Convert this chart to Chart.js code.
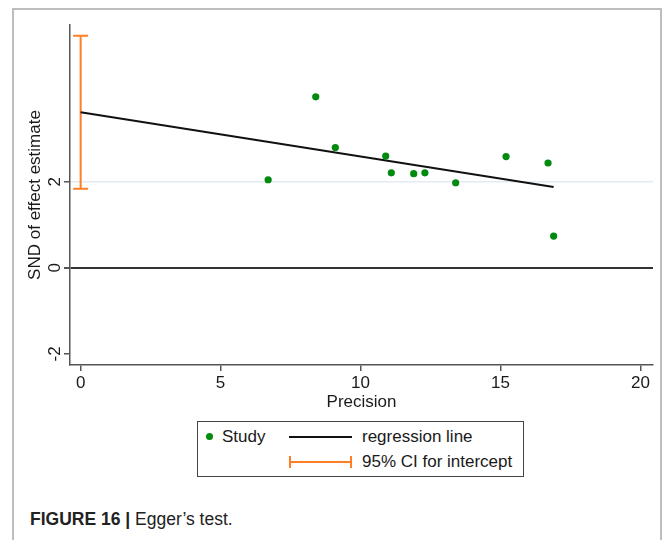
<!DOCTYPE html>
<html>
<head>
<meta charset="utf-8">
<script src="https://cdn.jsdelivr.net/npm/chart.js@4.4.1/dist/chart.umd.min.js"></script>
<style>
  html, body { margin: 0; padding: 0; background: #fff; }
  body { width: 663px; height: 540px; position: relative; overflow: hidden;
         font-family: "Liberation Sans", Arial, Helvetica, sans-serif; color: #1a1a1a; }
  #frame { position: absolute; left: 12px; top: 8px; width: 650px; height: 600px;
           border: 2px solid #bdbdbd; box-sizing: border-box; }
  #plot { position: absolute; left: 0; top: 0; }
  #legend { position: absolute; left: 197px; top: 421px; width: 327px; height: 56px;
            border: 1.5px solid #444; box-sizing: border-box; background: #fff; font-size: 17px; }
  .lg-item { position: absolute; height: 20px; line-height: 20px; white-space: nowrap; }
  .lg-dot { position: absolute; width: 7px; height: 7px; border-radius: 50%; }
  .lg-line { position: absolute; height: 0; }
  .lg-cap { position: absolute; width: 0; height: 12px; }
  #caption { position: absolute; left: 30px; top: 509px; font-size: 17.5px; color: #222; white-space: nowrap; }
  #caption b { font-weight: bold; }
</style>
</head>
<body>
<div id="frame"></div>
<canvas id="plot" width="663" height="420"></canvas>
<div id="legend"></div>
<div id="caption"><b>FIGURE 16 |</b> Egger’s test.</div>
<script>
// Egger's regression test: standard normal deviate vs precision
const precision = [6.7, 8.4, 9.1, 10.9, 11.1, 11.9, 12.3, 13.4, 15.2, 16.7, 16.9];
const snd       = [2.05, 3.98, 2.80, 2.60, 2.21, 2.19, 2.21, 1.98, 2.59, 2.44, 0.74];

// fitted regression line (intercept at precision 0)
const regX = [0, 16.9];
const regY = [3.62, 1.88];

// 95% confidence interval for the intercept
const ciX = [0, 0];
const ciY = [5.40, 1.84];

const xTicks = [0, 5, 10, 15, 20];
const yTicks = [-2, 0, 2];

const green = '#008a0e';
const orange = '#ff7f27';
const font = { size: 17, family: 'Liberation Sans' };

const pts = (xs, ys) => xs.map((x, i) => ({ x: x, y: ys[i] }));

const chart = new Chart(document.getElementById('plot'), {
  type: 'scatter',
  data: {
    datasets: [
      {
        label: 'Study',
        data: pts(precision, snd),
        pointRadius: 3.6,
        pointHoverRadius: 3.6,
        backgroundColor: green,
        borderWidth: 0,
        showLine: false
      },
      {
        label: 'regression line',
        data: pts(regX, regY),
        showLine: true,
        borderColor: '#111',
        borderWidth: 2,
        pointRadius: 0,
        fill: false
      },
      {
        label: '95% CI for intercept',
        data: pts(ciX, ciY),
        showLine: true,
        borderColor: orange,
        borderWidth: 2,
        pointStyle: 'line',
        pointRadius: 7.5,
        pointBorderColor: orange,
        pointBorderWidth: 2,
        fill: false
      }
    ]
  },
  options: {
    responsive: false,
    animation: false,
    events: [],
    layout: { padding: { top: 25, right: 10, left: 0, bottom: 0 } },
    plugins: { legend: { display: false }, tooltip: { enabled: false } },
    scales: {
      x: {
        type: 'linear',
        min: -0.38,
        max: 20.45,
        afterBuildTicks: s => { s.ticks = xTicks.map(v => ({ value: v })); },
        afterFit: s => { s.height = 55; },
        border: { display: true, color: '#555', width: 1.5 },
        grid: { drawOnChartArea: false, drawTicks: true, tickLength: 6, tickColor: '#555', lineWidth: 1.5 },
        ticks: { font: font, color: '#1a1a1a', padding: 2, maxRotation: 0, autoSkip: false },
        title: { display: true, text: 'Precision', color: '#1a1a1a', font: font,
                 padding: { top: 0, bottom: 7.8 } }
      },
      y: {
        type: 'linear',
        min: -2.26,
        max: 5.65,
        afterBuildTicks: s => { s.ticks = yTicks.map(v => ({ value: v })); },
        afterFit: s => { s.width = 70; },
        border: { display: true, color: '#555', width: 1.5 },
        grid: {
          color: c => c.tick.value === 0 ? '#333' : (c.tick.value === 2 ? '#e3eaf1' : 'rgba(0,0,0,0)'),
          lineWidth: c => c.tick.value === 0 ? 2 : 1.5,
          tickColor: '#555',
          tickLength: 6
        },
        ticks: { font: font, color: '#1a1a1a',
                 minRotation: 90, maxRotation: 90, crossAlign: 'center', padding: 1 },
        title: { display: true, text: 'SND of effect estimate', color: '#1a1a1a', font: font,
                 padding: { top: 25.5, bottom: 0 } }
      }
    }
  }
});

// Legend box built from the chart's datasets
(function buildLegend() {
  const box = document.getElementById('legend');
  const ds = chart.data.datasets;
  const add = (tag, cls, css, text) => {
    const el = document.createElement(tag);
    el.className = cls;
    Object.assign(el.style, css);
    if (text) el.textContent = text;
    box.appendChild(el);
    return el;
  };
  // Study marker
  add('div', 'lg-dot', { left: '8px', top: '11px', background: ds[0].backgroundColor });
  add('div', 'lg-item', { left: '24px', top: '4.5px' }, ds[0].label);
  // regression line
  add('div', 'lg-line', { left: '91px', top: '14px', width: '63px',
                          borderTop: ds[1].borderWidth + 'px solid ' + ds[1].borderColor });
  add('div', 'lg-item', { left: '164px', top: '4.5px' }, ds[1].label);
  // confidence interval
  const ciCol = ds[2].borderColor;
  add('div', 'lg-line', { left: '91px', top: '39px', width: '63px', borderTop: '2px solid ' + ciCol });
  add('div', 'lg-cap', { left: '91px', top: '34px', borderLeft: '2px solid ' + ciCol });
  add('div', 'lg-cap', { left: '152px', top: '34px', borderLeft: '2px solid ' + ciCol });
  add('div', 'lg-item', { left: '164px', top: '29.5px' }, ds[2].label);
})();
</script>
</body>
</html>
